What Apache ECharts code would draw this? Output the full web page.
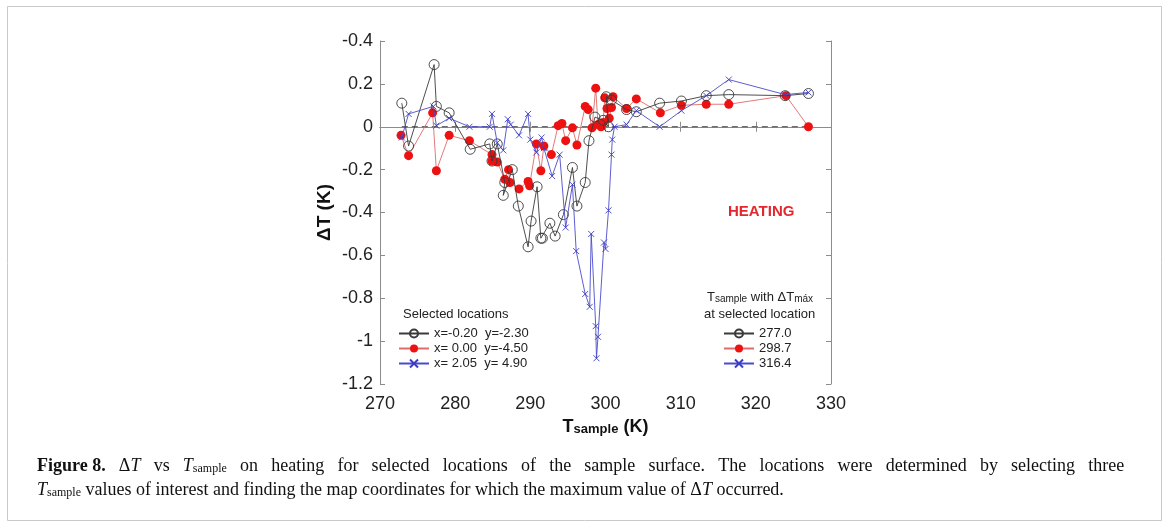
<!DOCTYPE html>
<html>
<head>
<meta charset="utf-8">
<script src="https://cdn.jsdelivr.net/npm/echarts@6/dist/echarts.min.js"></script>
<style>
html,body{margin:0;padding:0;background:#fff;}
#chart{width:1165px;height:524px;}
</style>
</head>
<body>
<div id="chart"></div>
<script>
// ---- data ----
const blackName = 'x=-0.20  y=-2.30';
const redName   = 'x= 0.00  y=-4.50';
const blueName  = 'x= 2.05  y= 4.90';
const legend2Names = ['277.0', '298.7', '316.4'];

const blackT  = [272.9,273.8,277.2,277.5,279.2,282.0,284.6,284.9,285.6,286.6,286.4,287.6,288.4,289.7,290.1,290.9,291.4,291.6,292.6,293.3,294.4,295.6,296.2,297.3,297.8,298.6,299.7,300.4,300.1,300.8,302.8,304.1,307.2,310.1,313.4,316.4,323.9,327.0];
const blackDT = [0.11,-0.09,0.29,0.095,0.065,-0.105,-0.08,-0.16,-0.08,-0.26,-0.32,-0.20,-0.37,-0.56,-0.44,-0.28,-0.52,-0.52,-0.45,-0.51,-0.41,-0.19,-0.37,-0.26,-0.065,0.045,0.03,0.0,0.14,0.125,0.08,0.07,0.11,0.12,0.145,0.15,0.145,0.155];

const redT  = [272.8,273.8,277.0,277.5,279.2,281.9,284.9,284.9,285.6,286.6,287.1,287.3,288.5,289.7,289.9,290.8,291.4,291.8,292.8,293.7,294.2,294.7,295.6,296.2,297.3,297.7,298.2,298.7,299.0,299.4,299.7,299.9,300.2,300.5,300.8,301.0,302.8,304.1,307.3,310.1,313.4,316.4,324.0,327.0];
const redDT = [-0.04,-0.135,0.065,-0.205,-0.04,-0.065,-0.13,-0.16,-0.165,-0.245,-0.20,-0.26,-0.29,-0.255,-0.275,-0.08,-0.205,-0.09,-0.13,0.005,0.015,-0.065,-0.005,-0.085,0.095,0.08,-0.005,0.18,0.01,0.0,0.02,0.135,0.085,0.04,0.09,0.14,0.085,0.13,0.065,0.1,0.105,0.105,0.145,0.0];

const blueT  = [272.9,273.8,277.1,277.5,279.2,281.9,284.6,284.9,285.6,286.4,287.0,287.4,288.5,289.7,290.0,290.8,291.5,291.8,292.9,293.9,294.7,295.6,296.1,297.3,297.9,298.1,298.7,298.8,299.0,299.8,300.0,300.4,300.8,300.9,301.2,302.8,304.1,307.2,310.1,313.4,316.4,323.9,327.0];
const blueDT = [-0.05,0.06,0.095,0.005,0.04,0.0,0.0,0.06,-0.075,-0.11,0.035,0.01,-0.04,0.06,-0.06,-0.12,-0.05,-0.10,-0.23,-0.13,-0.47,-0.27,-0.58,-0.78,-0.84,-0.50,-0.93,-1.08,-0.98,-0.54,-0.57,-0.39,-0.13,-0.06,0.0,0.01,0.075,0.0,0.075,0.145,0.22,0.15,0.16];

const zeroLineT  = [272.9, 327.0];
const zeroLineDT = [0, 0];

const xTickLabels = ['270','280','290','300','310','320','330'];
const yTickLabels = ['-1.2','-1','-0.8','-0.6','-0.4','-0.2','0','0.2','-0.4'];
const xMin = 270, xMax = 330, xStep = 10;
const yMin = -1.2, yMax = 0.4, yStep = 0.2;

// ---- build ----
const zip = (a, b) => a.map((v, i) => [v, b[i]]);
const SANS = '"Liberation Sans", Arial, Helvetica, sans-serif';
const SERIF = '"Liberation Serif", "Times New Roman", serif';

const blackStyle = {
  symbol: 'circle', symbolSize: 10,
  itemStyle: { color: 'rgba(255,255,255,0)', borderColor: '#3a3a3a', borderWidth: 0.9 },
  lineStyle: { color: '#3a3a3a', width: 0.9 }
};
const redStyle = {
  symbol: 'circle', symbolSize: 9,
  itemStyle: { color: '#ee1111', borderColor: '#ee1111', borderWidth: 0 },
  lineStyle: { color: '#e06a6a', width: 0.9 }
};
const blueStyle = {
  symbol: 'path://M0,0L10,10M10,0L0,10', symbolSize: 6,
  itemStyle: { color: '#3c3cc4', borderColor: '#3c3cc4', borderWidth: 0.9 },
  lineStyle: { color: '#4b4bcc', width: 0.9 }
};

function mkSeries(name, data, style, z) {
  return Object.assign({
    name: name, type: 'line', data: data, z: z,
    showSymbol: true, animation: false, silent: true,
    emphasis: { disabled: true }
  }, JSON.parse(JSON.stringify(style)));
}

const xAxisBase = {
  type: 'value', min: xMin, max: xMax, interval: xStep,
  axisLine: { show: true, lineStyle: { color: '#8c8c8c', width: 1 } },
  axisTick: { show: true, inside: true, length: 5, lineStyle: { color: '#8c8c8c' } },
  splitLine: { show: false }
};
const yAxisBase = {
  type: 'value', min: yMin, max: yMax, interval: yStep,
  axisLine: { show: true, lineStyle: { color: '#8c8c8c', width: 1 } },
  axisTick: { show: true, inside: true, length: 5, lineStyle: { color: '#8c8c8c' } },
  splitLine: { show: false }
};

const CAP = 18;
const captionRich = {
  fb: { fontSize: CAP, fontWeight: 'bold', fill: '#111', fontFamily: SERIF, verticalAlign: 'bottom', lineHeight: 22 },
  r: { fontSize: CAP, fill: '#111', fontFamily: SERIF, verticalAlign: 'bottom', lineHeight: 22 },
  i: { fontSize: CAP, fontStyle: 'italic', fill: '#111', fontFamily: SERIF, verticalAlign: 'bottom', lineHeight: 22 },
  sub: { fontSize: 12, fill: '#111', fontFamily: SERIF, verticalAlign: 'bottom', lineHeight: 12 },
  sp: { fontSize: CAP, fontFamily: SERIF, width: 13.2, verticalAlign: 'bottom', lineHeight: 22 }
};
// justified first caption line: words separated by widened spaces
const capLine1Words = ['{fb|Figure 8.}', '{r|Δ}{i|T}', '{r|vs}', '{i|T}{sub|sample}', '{r|on}', '{r|heating}', '{r|for}', '{r|selected}', '{r|locations}', '{r|of}', '{r|the}', '{r|sample}', '{r|surface.}', '{r|The}', '{r|locations}', '{r|were}', '{r|determined}', '{r|by}', '{r|selecting}', '{r|three}'];
const capLine2 = '{i|T}{sub|sample}{r| values of interest and finding the map coordinates for which the maximum value of Δ}{i|T}{r| occurred.}';

const option = {
  backgroundColor: '#ffffff',
  animation: false,
  textStyle: { fontFamily: SANS },
  grid: { left: 380, right: 334, top: 41, bottom: 140, containLabel: false },
  xAxis: [
    Object.assign({}, xAxisBase, {
      position: 'bottom',
      axisLabel: {
        show: true, color: '#222', fontSize: 18, margin: 11, fontFamily: SANS,
        formatter: v => xTickLabels[Math.round((v - xMin) / xStep)]
      },
      name: '{b|T}{s|sample}{b| (K)}',
      nameLocation: 'middle', nameGap: 32,
      nameTextStyle: {
        rich: {
          b: { fontSize: 18, fontWeight: 'bold', color: '#111', fontFamily: SANS, verticalAlign: 'bottom', lineHeight: 20 },
          s: { fontSize: 13, fontWeight: 'bold', color: '#111', fontFamily: SANS, verticalAlign: 'bottom', lineHeight: 18 }
        }
      }
    }),
    Object.assign({}, xAxisBase, { position: 'top', axisLabel: { show: false } })
  ],
  yAxis: [
    Object.assign({}, yAxisBase, {
      position: 'left',
      axisLabel: {
        show: true, color: '#222', fontSize: 18, margin: 7, fontFamily: SANS,
        formatter: v => yTickLabels[Math.round((v - yMin) / yStep)]
      },
      name: 'ΔT (K)', nameLocation: 'middle', nameGap: 46, nameRotate: 90,
      nameTextStyle: { fontSize: 19, fontWeight: 'bold', color: '#111', fontFamily: SANS }
    }),
    Object.assign({}, yAxisBase, { position: 'right', axisLabel: { show: false } })
  ],
  legend: [
    {
      data: [blackName, redName, blueName],
      orient: 'vertical', left: 393, top: 322, padding: 5,
      itemWidth: 30, itemHeight: 10, itemGap: 2,
      selectedMode: false,
      textStyle: { fontSize: 13, color: '#222', fontFamily: SANS, lineHeight: 12 }
    },
    {
      data: legend2Names,
      orient: 'vertical', left: 718, top: 322, padding: 5,
      itemWidth: 30, itemHeight: 10, itemGap: 2,
      selectedMode: false,
      textStyle: { fontSize: 13, color: '#222', fontFamily: SANS, lineHeight: 12 }
    }
  ],
  series: [
    {
      name: 'zero', type: 'line', data: zip(zeroLineT, zeroLineDT), z: 1,
      symbol: 'none', silent: true,
      lineStyle: { color: '#6e6e6e', width: 1.3, type: [6, 4] }
    },
    mkSeries(redName, zip(redT, redDT), redStyle, 2),
    mkSeries(blackName, zip(blackT, blackDT), blackStyle, 3),
    mkSeries(blueName, zip(blueT, blueDT), blueStyle, 4),
    mkSeries(legend2Names[0], [], blackStyle, 2),
    mkSeries(legend2Names[1], [], redStyle, 2),
    mkSeries(legend2Names[2], [], blueStyle, 2)
  ],
  graphic: [
    {
      type: 'rect', left: 5, top: 4, silent: true,
      shape: { width: 1154, height: 514 },
      style: { fill: 'none', stroke: '#c9c9c9', lineWidth: 1 }
    },
    {
      type: 'text', left: 728, top: 204, silent: true,
      style: { text: 'HEATING', fill: '#e5262d', font: 'bold 15px ' + SANS }
    },
    {
      type: 'text', left: 403, top: 308, silent: true,
      style: { text: 'Selected locations', fill: '#222', font: '13px ' + SANS }
    },
    {
      type: 'text', left: 707, top: 291, silent: true,
      style: {
        text: '{a|T}{s|sample}{a| with ΔT}{s|máx}',
        rich: {
          a: { fontSize: 13, fill: '#222', fontFamily: SANS, verticalAlign: 'bottom', lineHeight: 16 },
          s: { fontSize: 10, fill: '#222', fontFamily: SANS, verticalAlign: 'bottom', lineHeight: 15 }
        }
      }
    },
    {
      type: 'text', left: 704, top: 308, silent: true,
      style: { text: 'at selected location', fill: '#222', font: '13px ' + SANS }
    },
    {
      type: 'text', left: 37, top: 457, silent: true,
      style: { text: capLine1Words.join('{sp| }'), rich: captionRich }
    },
    {
      type: 'text', left: 37, top: 481, silent: true,
      style: { text: capLine2, rich: captionRich }
    }
  ]
};

const chart = echarts.init(document.getElementById('chart'), null, { renderer: 'canvas' });
chart.setOption(option);
</script>
</body>
</html>
